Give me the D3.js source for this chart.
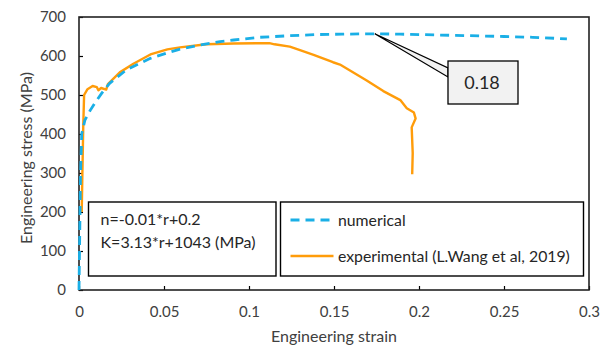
<!DOCTYPE html>
<html>
<head>
<meta charset="utf-8">
<script src="https://cdn.jsdelivr.net/npm/d3@7"></script>
<style>
  body { margin: 0; background: #fff; }
  svg { display: block; font-family: Lato, "Open Sans", sans-serif; }
</style>
</head>
<body>
<svg id="chart" width="608" height="345"></svg>
<script>
// ---- data ----
const numericalStrain = [0, 0.0003, 0.0006, 0.0009, 0.0016, 0.0035, 0.0065, 0.0094, 0.0133, 0.018, 0.028, 0.042, 0.052, 0.059, 0.071, 0.083, 0.091, 0.1065, 0.124, 0.14, 0.155, 0.174, 0.189, 0.21, 0.23, 0.25, 0.267, 0.287];
const numericalStress = [0, 100, 200, 300, 400, 436, 460, 480, 504, 530, 565, 594, 608, 617, 628, 637, 641, 648, 652, 655, 656, 657, 656, 654, 652, 650, 648, 644];

const experimentalStrain = [0.0016, 0.002, 0.0025, 0.003, 0.005, 0.008, 0.0105, 0.0114, 0.013, 0.016, 0.017, 0.024, 0.032, 0.042, 0.052, 0.0594, 0.075, 0.091, 0.112, 0.115, 0.124, 0.130, 0.138, 0.1494, 0.1535, 0.169, 0.179, 0.189, 0.1928, 0.197, 0.198, 0.1957, 0.1963, 0.196];
const experimentalStress = [200, 300, 420, 500, 515, 523, 520, 512, 518, 514, 528, 558, 580, 604, 617, 622, 630, 632, 633, 630, 624, 615, 603, 584, 578, 538, 510, 487, 466, 455, 440, 417, 351, 297];

const xTicks = [0, 0.05, 0.1, 0.15, 0.2, 0.25, 0.3];
const xTickLabels = ["0", "0.05", "0.1", "0.15", "0.2", "0.25", "0.3"];
const yTicks = [0, 100, 200, 300, 400, 500, 600, 700];
const yTickLabels = ["0", "100", "200", "300", "400", "500", "600", "700"];

const seriesNames = ["numerical", "experimental (L.Wang et al, 2019)"];
const equationLines = ["n=-0.01*r+0.2", "K=3.13*r+1043 (MPa)"];
const calloutLabel = "0.18";
const calloutPoint = [0.174, 657];
const xTitle = "Engineering strain";
const yTitle = "Engineering stress (MPa)";

// ---- layout ----
const W = 608, H = 345;
const m = { left: 79, top: 17, right: 19, bottom: 55 };
const pw = W - m.left - m.right, ph = H - m.top - m.bottom;
const blue = "#1AAFE6", orange = "#FF9C0A";

const svg = d3.select("#chart");
const g = svg.append("g").attr("transform", `translate(${m.left},${m.top})`);

const x = d3.scaleLinear().domain([0, 0.3]).range([0, pw]);
const y = d3.scaleLinear().domain([0, 700]).range([ph, 0]);

// axes (inward ticks)
const xAxis = d3.axisBottom(x).tickValues(xTicks).tickSize(-4).tickPadding(16)
  .tickFormat((d, i) => xTickLabels[i]);
const yAxis = d3.axisLeft(y).tickValues(yTicks).tickSize(-4).tickPadding(13)
  .tickFormat((d, i) => yTickLabels[i]);

const gx = g.append("g").attr("transform", `translate(0,${ph})`).call(xAxis);
const gy = g.append("g").call(yAxis);
[gx, gy].forEach(a => {
  a.select(".domain").remove();
  a.selectAll(".tick line").attr("stroke", "#000").attr("stroke-width", 1.2);
  a.selectAll(".tick text").attr("fill", "#404040").style("font-size", "15px").style("font-family", "Lato, sans-serif");
});

// frame
g.append("rect").attr("x", 0).attr("y", 0).attr("width", pw).attr("height", ph)
  .attr("fill", "none").attr("stroke", "#222").attr("stroke-width", 1.6);

// lines
const numData = numericalStrain.map((s, i) => [s, numericalStress[i]]);
const expData = experimentalStrain.map((s, i) => [s, experimentalStress[i]]);
const lineLin = d3.line().x(d => x(d[0])).y(d => y(d[1]));

g.append("path").datum(expData).attr("d", lineLin)
  .attr("fill", "none").attr("stroke", orange).attr("stroke-width", 2.4).attr("stroke-linejoin", "round");
g.append("path").datum(numData).attr("d", lineLin)
  .attr("fill", "none").attr("stroke", blue).attr("stroke-width", 2.8)
  .attr("stroke-dasharray", "9,6");

// callout
const cx = x(calloutPoint[0]), cy = y(calloutPoint[1]);
const bx = 369, by = 44, bw = 70, bh = 43;
g.append("path")
  .attr("d", `M${cx},${cy} L${bx},${by + 7} L${bx},${by + 16} Z`)
  .attr("fill", "#f2f2f2").attr("stroke", "#000").attr("stroke-width", 1.2);
g.append("rect").attr("x", bx).attr("y", by).attr("width", bw).attr("height", bh)
  .attr("fill", "#f2f2f2").attr("stroke", "#000").attr("stroke-width", 1.3);
g.append("text").attr("x", bx + 34).attr("y", by + 28).attr("text-anchor", "middle")
  .attr("fill", "#262626").style("font-size", "18px").text(calloutLabel);

// equation box
const eq = g.append("g").attr("transform", `translate(${88.5 - m.left},${202 - m.top})`);
eq.append("rect").attr("width", 187.5).attr("height", 74)
  .attr("fill", "#fff").attr("stroke", "#000").attr("stroke-width", 1.4);
eq.selectAll("text").data(equationLines).join("text")
  .attr("x", 12).attr("y", (d, i) => 23 + i * 22.5)
  .attr("fill", "#262626").style("font-size", "16px").text(d => d);

// legend box
const lg = g.append("g").attr("transform", `translate(${280.5 - m.left},${202 - m.top})`);
lg.append("rect").attr("width", 303).attr("height", 74)
  .attr("fill", "#fff").attr("stroke", "#000").attr("stroke-width", 1.4);
const legendStyles = [{ c: blue, w: 2.8, dash: "9,6" }, { c: orange, w: 2.4, dash: null }];
seriesNames.forEach((name, i) => {
  const yy = 18 + i * 36;
  lg.append("line").attr("x1", 10).attr("x2", 53).attr("y1", yy).attr("y2", yy)
    .attr("stroke", legendStyles[i].c).attr("stroke-width", legendStyles[i].w)
    .attr("stroke-dasharray", legendStyles[i].dash);
  lg.append("text").attr("x", 57.5).attr("y", yy + 5.5)
    .attr("fill", "#262626").style("font-size", "15.8px").text(name);
});

// axis titles
svg.append("text").attr("x", m.left + pw / 2).attr("y", 342).attr("text-anchor", "middle")
  .attr("fill", "#404040").style("font-size", "16px").text(xTitle);
svg.append("text").attr("transform", "translate(32,158) rotate(-90)").attr("text-anchor", "middle")
  .attr("fill", "#404040").style("font-size", "16px").text(yTitle);
</script>
</body>
</html>
